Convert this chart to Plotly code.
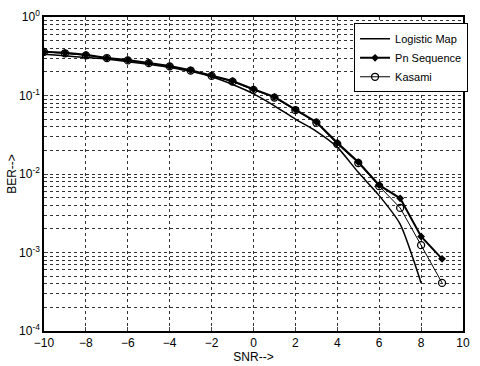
import plotly.graph_objects as go

snr = [-10, -9, -8, -7, -6, -5, -4, -3, -2, -1, 0, 1, 2, 3, 4, 5, 6, 7, 8, 9]
pn_ber = [0.36, 0.35, 0.33, 0.30, 0.283, 0.26, 0.237, 0.21, 0.18, 0.153, 0.12,
          0.096, 0.066, 0.046, 0.025, 0.0142, 0.0072, 0.0049, 0.0016, 0.00083]
kasami_ber = [0.36, 0.345, 0.325, 0.30, 0.28, 0.258, 0.235, 0.208, 0.178, 0.15, 0.118,
              0.094, 0.065, 0.045, 0.024, 0.0138, 0.007, 0.0037, 0.00124, 0.00041]
logistic_snr = [-10, -9, -8, -7, -6, -5, -4, -3, -2, -1, 0, 1, 2, 3, 4, 5, 6, 7, 8]
logistic_ber = [0.335, 0.32, 0.305, 0.29, 0.27, 0.25, 0.228, 0.203, 0.173, 0.138, 0.105,
                0.074, 0.05, 0.035, 0.022, 0.0105, 0.0053, 0.0023, 0.00041]

x_ticks = [-10, -8, -6, -4, -2, 0, 2, 4, 6, 8, 10]
y_tickvals = [1e-4, 1e-3, 1e-2, 1e-1, 1]
y_ticktext = ["10<sup>-4</sup>", "10<sup>-3</sup>", "10<sup>-2</sup>", "10<sup>-1</sup>", "10<sup>0</sup>"]

fig = go.Figure()
fig.add_trace(go.Scatter(x=logistic_snr, y=logistic_ber, mode="lines", name="Logistic Map",
                         line=dict(color="black", width=1.5, shape="spline", smoothing=0.6)))
fig.add_trace(go.Scatter(x=snr, y=pn_ber, mode="lines+markers", name="Pn Sequence",
                         line=dict(color="black", width=2),
                         marker=dict(symbol="diamond", size=6, color="black")))
fig.add_trace(go.Scatter(x=snr, y=kasami_ber, mode="lines+markers", name="Kasami",
                         line=dict(color="black", width=1),
                         marker=dict(symbol="circle-open", size=7, color="black", line=dict(width=1.3))))

font_family = "Liberation Sans, Arial, sans-serif"

fig.update_layout(
    width=480, height=366,
    margin=dict(l=44, r=12, t=17, b=35),
    plot_bgcolor="white", paper_bgcolor="white",
    font=dict(family=font_family, size=12, color="black"),
    showlegend=True,
    legend=dict(x=0.74, y=0.98, xanchor="left", yanchor="top",
                bgcolor="white", bordercolor="black", borderwidth=1,
                font=dict(size=11), tracegroupgap=0, itemwidth=30),
    xaxis=dict(range=[-10, 10], tickvals=x_ticks, showline=True, mirror=True,
               linecolor="black", linewidth=1.5, ticks="inside", ticklen=4,
               showgrid=True, gridcolor="#333", griddash="dot", gridwidth=1,
               zeroline=False, automargin=False,
               title=dict(text="SNR-->", standoff=2, font=dict(size=12))),
    yaxis=dict(type="log", range=[-4, 0], tickvals=y_tickvals, ticktext=y_ticktext,
               showline=True, mirror=True, linecolor="black", linewidth=1.5,
               ticks="inside", ticklen=4, automargin=False,
               showgrid=True, gridcolor="#333", griddash="dot", gridwidth=1,
               minor=dict(showgrid=True, gridcolor="#333", griddash="dot", gridwidth=1,
                          dtick="D1", ticks=""),
               title=dict(text="BER-->", standoff=0, font=dict(size=12))),
)

fig.write_html("out.html", config={"displayModeBar": False},
               post_script="document.body.style.margin='0px';")
